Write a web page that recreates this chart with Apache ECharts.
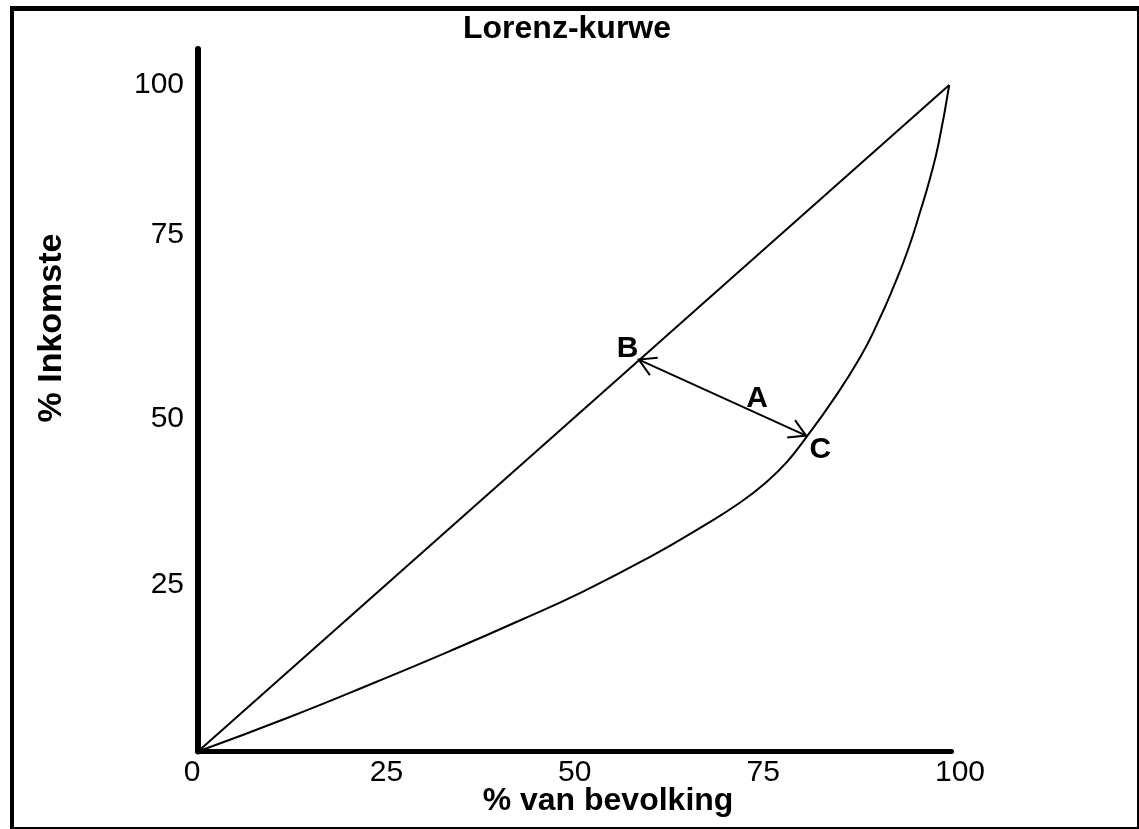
<!DOCTYPE html>
<html><head><meta charset="utf-8">
<script src="https://cdn.jsdelivr.net/npm/echarts@6/dist/echarts.min.js"></script>
<style>html,body{margin:0;padding:0;background:#fff}#c{width:1139px;height:829px}</style>
</head><body><div id="c"></div>
<script>
// ---- data ----
const titleText = 'Lorenz-kurwe';
const xName = '% van bevolking';
const yName = '% Inkomste';
const xTicks = [0, 25, 50, 75, 100];
const yTicks = [25, 50, 75, 100];
const equalityX = [0, 99.7];
const equalityY = [0, 100];
const lorenzX = [0, 12, 23.8, 33.5, 42.4, 51.1, 60, 66.7, 72, 75.6, 78.2, 80.5, 84.2, 87.9, 90.2, 92.3, 94.2, 95.9, 97.2, 98.3, 99.7];
const lorenzY = [0, 5.1, 10.5, 15.1, 19.5, 24.0, 29.2, 33.6, 37.4, 40.6, 43.5, 46.8, 52.6, 59.2, 64.3, 69.7, 75.2, 81.2, 86.2, 91.3, 100];
const arrowFrom = [58.5, 58.8];
const arrowTo = [80.7, 47.4];
const pointNames = ['B', 'A', 'C'];
const pointX = [57.0, 74.2, 82.6];
const pointY = [60.4, 53.0, 45.3];

// ---- chart ----
const FONT = "'Liberation Sans', Arial, sans-serif";
const zip = (xs, ys) => xs.map((x, i) => [x, ys[i]]);
const chart = echarts.init(document.getElementById('c'), null, { renderer: 'canvas' });

// small per-label nudges to match the reference placement
const xShift = { 0: [0, 12, 0, 0], 100: [0, 0, 0, 17] };
const yShift = { 75: [0, 0, 33, 0] };
const xRich = {}, yRich = {};
xTicks.forEach(v => { xRich['x' + v] = { fontSize: 30, fontFamily: FONT, color: '#000', padding: xShift[v] || 0 }; });
yTicks.forEach(v => { yRich['y' + v] = { fontSize: 30, fontFamily: FONT, color: '#000', padding: yShift[v] || 0 }; });

const st = { stroke: '#000', lineWidth: 2, fill: null };

const option = {
  animation: false,
  backgroundColor: '#fff',
  title: {
    text: titleText, left: 458, top: 8,
    textStyle: { fontFamily: FONT, fontSize: 32, fontWeight: 'bold', color: '#000' }
  },
  grid: { left: 198, right: 187.5, top: 49, bottom: 77.5, outerBoundsMode: 'none', containLabel: false },
  xAxis: {
    type: 'value', min: 0, max: 100, interval: 25,
    axisLine: { show: true, onZero: false, lineStyle: { color: '#000', width: 5 } },
    axisTick: { show: false }, splitLine: { show: false },
    axisLabel: {
      margin: 6, fontSize: 30, fontFamily: FONT, color: '#000',
      formatter: v => xTicks.includes(v) ? '{x' + v + '|' + v + '}' : '',
      rich: xRich
    }
  },
  yAxis: {
    type: 'value', min: 0, max: 105.4, interval: 25,
    axisLine: { show: true, onZero: false, lineStyle: { color: '#000', width: 6 } },
    axisTick: { show: false }, splitLine: { show: false },
    axisLabel: {
      margin: 14, fontSize: 30, fontFamily: FONT, color: '#000',
      formatter: v => yTicks.includes(v) ? '{y' + v + '|' + v + '}' : '',
      rich: yRich
    }
  },
  graphic: [
    { type: 'rect', shape: { x: 10, y: 6, width: 4, height: 823 }, style: { fill: '#000' } },
    { type: 'rect', shape: { x: 10, y: 6, width: 1129, height: 5 }, style: { fill: '#000' } },
    { type: 'rect', shape: { x: 1137, y: 6, width: 2, height: 823 }, style: { fill: '#000' } },
    { type: 'rect', shape: { x: 10, y: 827, width: 1129, height: 2 }, style: { fill: '#000' } },
    { type: 'text', x: 608, y: 801, style: { text: xName, fontFamily: FONT, fontSize: 32, fontWeight: 'bold', fill: '#000', align: 'center', verticalAlign: 'middle' } },
    { type: 'text', x: 52, y: 328, rotation: Math.PI / 2, style: { text: yName, fontFamily: FONT, fontSize: 34, fontWeight: 'bold', fill: '#000', align: 'center', verticalAlign: 'middle' } }
  ],
  series: [
    {
      type: 'line', data: zip(equalityX, equalityY), showSymbol: false, symbol: 'none',
      lineStyle: { color: '#000', width: 2 }, clip: false
    },
    {
      type: 'line', data: zip(lorenzX, lorenzY), showSymbol: false, symbol: 'none', smooth: 0.5,
      lineStyle: { color: '#000', width: 2 }, clip: false
    },
    {
      type: 'custom', clip: false,
      data: [[arrowFrom[0], arrowFrom[1], arrowTo[0], arrowTo[1]]],
      encode: { x: [0, 2], y: [1, 3] },
      renderItem: (params, api) => {
        const p1 = api.coord([api.value(0), api.value(1)]);
        const p2 = api.coord([api.value(2), api.value(3)]);
        const ang = Math.atan2(p2[1] - p1[1], p2[0] - p1[0]);
        const L = 19, a = Math.PI / 6;
        const head = (p, d) => [[p[0] + L * Math.cos(d + a), p[1] + L * Math.sin(d + a)], [p[0], p[1]], [p[0] + L * Math.cos(d - a), p[1] + L * Math.sin(d - a)]];
        return {
          type: 'group', children: [
            { type: 'line', shape: { x1: p1[0], y1: p1[1], x2: p2[0], y2: p2[1] }, style: st },
            { type: 'polyline', shape: { points: head(p1, ang) }, style: st },
            { type: 'polyline', shape: { points: head(p2, ang + Math.PI) }, style: st }
          ]
        };
      }
    },
    {
      type: 'custom', clip: false,
      data: pointNames.map((n, i) => ({ name: n, value: [pointX[i], pointY[i]] })),
      encode: { x: 0, y: 1 },
      renderItem: (params, api) => {
        const p = api.coord([api.value(0), api.value(1)]);
        return {
          type: 'text', x: p[0], y: p[1],
          style: { text: pointNames[params.dataIndex], fontFamily: FONT, fontSize: 30, fontWeight: 'bold', fill: '#000', align: 'center', verticalAlign: 'middle' }
        };
      }
    }
  ]
};
chart.setOption(option);
</script>
</body></html>
